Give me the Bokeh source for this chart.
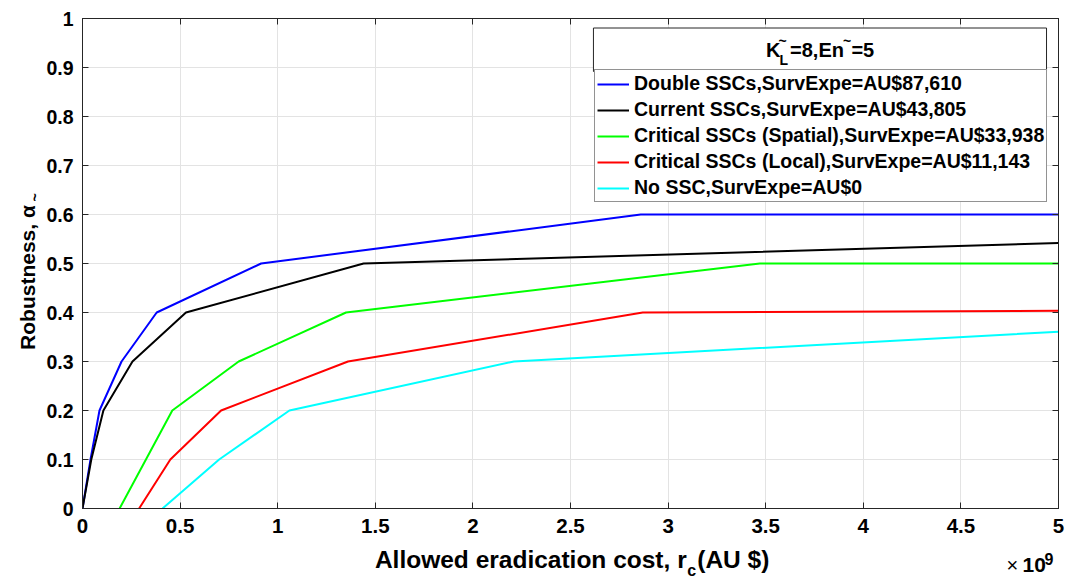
import math
from bokeh.plotting import figure
from bokeh.layouts import row, column
from bokeh.models import (Range1d, FixedTicker, LinearAxis, Legend, LegendItem,
                          Label, BoxAnnotation)
from bokeh.embed import file_html
from bokeh.resources import INLINE

# ---------------- data (x in units of 1e9 AU$) ----------------
x_ticks = [0, 0.5, 1, 1.5, 2, 2.5, 3, 3.5, 4, 4.5, 5]
x_tick_labels = ["0", "0.5", "1", "1.5", "2", "2.5", "3", "3.5", "4", "4.5", "5"]
y_ticks = [0, 0.1, 0.2, 0.3, 0.4, 0.5, 0.6, 0.7, 0.8, 0.9, 1.0]
y_tick_labels = ["0", "0.1", "0.2", "0.3", "0.4", "0.5", "0.6", "0.7", "0.8", "0.9", "1"]

series_names = [
    "Double SSCs,SurvExpe=AU$87,610",
    "Current SSCs,SurvExpe=AU$43,805",
    "Critical SSCs (Spatial),SurvExpe=AU$33,938",
    "Critical SSCs (Local),SurvExpe=AU$11,143",
    "No SSC,SurvExpe=AU$0",
]
series_colors = ["#0000ff", "#000000", "#00ff00", "#ff0000", "#00ffff"]

double_x = [0, 0.041, 0.087, 0.20, 0.38, 0.915, 2.86, 5.0]
double_y = [0, 0.1, 0.2, 0.3, 0.4, 0.5, 0.6, 0.6]
current_x = [0, 0.045, 0.107, 0.256, 0.53, 1.44, 5.0]
current_y = [0, 0.1, 0.2, 0.3, 0.4, 0.5, 0.5416]
spatial_x = [0.19, 0.46, 0.80, 1.35, 3.47, 5.0]
spatial_y = [0, 0.2, 0.3, 0.4, 0.5, 0.5]
local_x = [0.29, 0.45, 0.71, 1.36, 2.87, 5.0]
local_y = [0, 0.1, 0.2, 0.3, 0.4, 0.4035]
none_x = [0.41, 0.70, 1.06, 2.21, 5.0]
none_y = [0, 0.1, 0.2, 0.3, 0.3606]

series_x = [double_x, current_x, spatial_x, local_x, none_x]
series_y = [double_y, current_y, spatial_y, local_y, none_y]

# ---------------- layout (page pixels) ----------------
TOTAL_W, TOTAL_H = 1075, 578
YLAB_W = 43                 # left strip holding the y-axis title
MAIN_H = 545                # main figure height (x strip below)
FX0, FX1, FY0, FY1 = 80, 1058, 18, 508   # plot frame on page
XMAX, YMAX = 5.0, 1.0

MAIN_W = TOTAL_W - YLAB_W
BL = FX0 - YLAB_W
BT = FY0
BR = MAIN_W - BL - (FX1 - FX0)
BB = MAIN_H - FY1


def sx(px):
    return (px - FX0) / (FX1 - FX0) * XMAX


def sy(py):
    return (FY1 - py) / (FY1 - FY0) * YMAX


FONT = "Liberation Sans"
AXC = "#262626"

p = figure(width=MAIN_W, height=MAIN_H, output_backend="svg", toolbar_location=None,
           x_range=Range1d(0, XMAX), y_range=Range1d(0, YMAX),
           min_border_left=BL, min_border_right=BR, min_border_top=BT,
           min_border_bottom=BB, background_fill_color="white",
           border_fill_color="white")
p.outline_line_color = AXC
p.outline_line_width = 1

for ax in (p.xaxis[0], p.yaxis[0]):
    ax.axis_line_color = AXC
    ax.major_tick_line_color = AXC
    ax.major_tick_in = 6
    ax.major_tick_out = 0
    ax.minor_tick_line_color = None
    ax.major_label_text_font = FONT
    ax.major_label_text_font_style = "bold"
    ax.major_label_text_color = "#000000"
    ax.axis_label = None

p.xaxis[0].ticker = FixedTicker(ticks=x_ticks)
p.xaxis[0].major_label_overrides = {t: l for t, l in zip(x_ticks, x_tick_labels)}
p.xaxis[0].major_label_text_font_size = "20.5px"
p.xaxis[0].major_label_standoff = 10
p.yaxis[0].ticker = FixedTicker(ticks=y_ticks)
p.yaxis[0].major_label_overrides = {t: l for t, l in zip(y_ticks, y_tick_labels)}
p.yaxis[0].major_label_text_font_size = "19.5px"
p.yaxis[0].major_label_standoff = 9

top_ax = LinearAxis(ticker=FixedTicker(ticks=x_ticks))
right_ax = LinearAxis(ticker=FixedTicker(ticks=y_ticks))
for ax in (top_ax, right_ax):
    ax.major_label_text_font_size = "1px"
    ax.major_label_text_color = None
    ax.major_label_standoff = 0
    ax.major_tick_in = 6
    ax.major_tick_out = 0
    ax.minor_tick_line_color = None
    ax.axis_line_color = AXC
    ax.major_tick_line_color = AXC
p.add_layout(top_ax, "above")
p.add_layout(right_ax, "right")

p.xgrid.ticker = FixedTicker(ticks=x_ticks)
p.ygrid.ticker = FixedTicker(ticks=y_ticks)
p.grid.grid_line_color = "#e3e3e3"
p.grid.grid_line_width = 1

renderers = []
for xs, ys, c in zip(series_x, series_y, series_colors):
    r = p.line(xs, ys, line_color=c, line_width=2)
    renderers.append(r)

legend = Legend(
    items=[LegendItem(label=n, renderers=[r]) for n, r in zip(series_names, renderers)],
    location=(592 - FX0, FY1 - 202),
    border_line_color=AXC, border_line_width=1,
    background_fill_color="white", background_fill_alpha=1,
    label_text_font=FONT, label_text_font_style="bold",
    label_text_font_size="19.5px", label_text_color="#000000",
    glyph_width=32, glyph_height=20, label_height=20, label_standoff=5,
    padding=2, spacing=3, margin=0,
)
p.add_layout(legend)

# legend title box
p.add_layout(BoxAnnotation(left=sx(592), right=sx(1046), top=sy(27.5), bottom=sy(71),
                           fill_color="white", fill_alpha=1, line_color=AXC,
                           line_width=1, line_alpha=1))


def lab(fig, x, y, text, size, bold=True, align="left", baseline="middle", angle=0.0):
    fig.add_layout(Label(x=x, y=y, text=text, text_font=FONT,
                         text_font_size=f"{size}px",
                         text_font_style="bold" if bold else "normal",
                         text_align=align, text_baseline=baseline,
                         text_color="#000000", angle=angle))


# title: K~_L=8,En~=5 (inside the frame, page pixels -> data)
lab(p, sx(765), sy(49), "K", 20)
lab(p, sx(777.5), sy(40), "~", 14)
lab(p, sx(778.5), sy(59), "L", 14)
lab(p, sx(789), sy(49), "=8,En", 20)
lab(p, sx(842), sy(40), "~", 14)
lab(p, sx(850.5), sy(49), "=5", 20)


def strip(w, h, x0, x1, y0, y1, bl, br, bt, bb):
    f = figure(width=w, height=h, output_backend="svg", toolbar_location=None,
               x_range=Range1d(x0, x1), y_range=Range1d(y1, y0),
               x_axis_type=None, y_axis_type=None,
               min_border_left=bl, min_border_right=br, min_border_top=bt,
               min_border_bottom=bb, background_fill_color="white",
               border_fill_color="white")
    f.outline_line_color = None
    f.grid.visible = False
    return f


# y-axis title strip: frame spans page rows FY0..FY1, data = page pixels
yf = strip(YLAB_W, TOTAL_H, 0, YLAB_W, FY0, FY1, 0, 0, FY0, TOTAL_H - FY1)
lab(yf, 27, 277, "Robustness, α", 21, align="center", angle=math.pi / 2)
lab(yf, 34, 197, "~", 14, align="center", angle=math.pi / 2)

# x-axis title strip: frame spans page columns FX0..FX1, data = page pixels
xf = strip(MAIN_W, TOTAL_H - MAIN_H, FX0, FX1, MAIN_H, TOTAL_H, BL, BR, 0, 0)
lab(xf, 373, 559, "Allowed eradication cost, r", 24.5)
lab(xf, 686, 569.5, "c", 16)
lab(xf, 696, 559, "(AU $)", 24.5)
lab(xf, 1006, 564.5, "×", 20, bold=False)
lab(xf, 1022, 564.5, "10", 21)
lab(xf, 1044, 558, "9", 16)

layout = row(yf, column(p, xf, spacing=0), spacing=0)

open("out.html", "w").write(file_html(layout, INLINE))
